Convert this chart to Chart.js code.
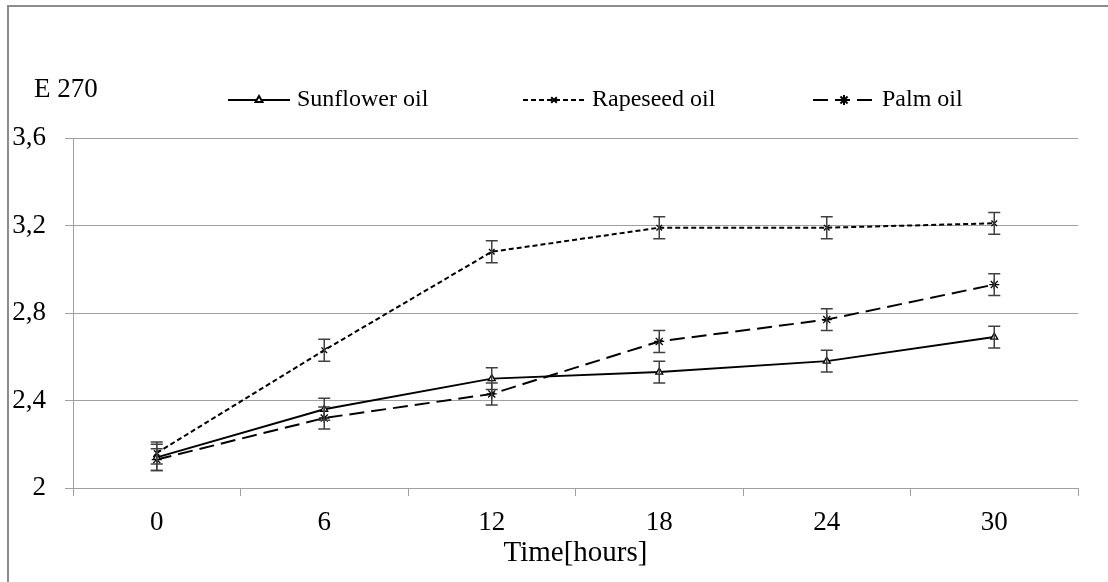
<!DOCTYPE html>
<html>
<head>
<meta charset="utf-8">
<script src="https://cdn.jsdelivr.net/npm/chart.js@4.4.1/dist/chart.umd.min.js"></script>
<style>
    body { margin: 0; background: #fff; }
    #wrap { position: relative; width: 1108px; height: 582px; overflow: hidden; }
    #frame { position: absolute; left: 7px; top: 5px; width: 1200px; height: 700px;
             border-left: 2px solid #8c8c8c; border-top: 2px solid #8c8c8c; }
    canvas { position: absolute; left: 0; top: 0; }
</style>
</head>
<body>
<div id="wrap">
    <canvas id="CHART" width="1108" height="582"></canvas>
    <div id="frame"></div>
</div>
<script>
"use strict"

const hours = ["0", "6", "12", "18", "24", "30"]
const sunflower = [2.14, 2.36, 2.50, 2.53, 2.58, 2.69]
const rapeseed = [2.16, 2.63, 3.08, 3.19, 3.19, 3.21]
const palm = [2.13, 2.32, 2.43, 2.67, 2.77, 2.93]
const sunflowerErr = [0.06, 0.05, 0.05, 0.05, 0.05, 0.05]
const rapeseedErr = [0.05, 0.05, 0.05, 0.05, 0.05, 0.05]
const palmErr = [0.05, 0.05, 0.05, 0.05, 0.05, 0.05]
const yTitle = "E 270"
const xTitle = "Time[hours]"

const FONT = "'Liberation Serif', 'Times New Roman', serif"

// error bars drawn from each dataset's "errors" array through the scales
const errorBars = {
    id: "errorBars",
    afterDatasetsDraw(chart) {
        const ctx = chart.ctx
        const ys = chart.scales.y
        ctx.save()
        ctx.strokeStyle = "#404040"
        ctx.lineWidth = 1.5
        chart.data.datasets.forEach((ds, i) => {
            const meta = chart.getDatasetMeta(i)
            meta.data.forEach((pt, j) => {
                const e = ds.errors[j]
                const y0 = ys.getPixelForValue(ds.data[j] + e)
                const y1 = ys.getPixelForValue(ds.data[j] - e)
                const x = pt.x
                ctx.beginPath()
                ctx.moveTo(x, y0); ctx.lineTo(x, y1)
                ctx.moveTo(x - 6, y0); ctx.lineTo(x + 6, y0)
                ctx.moveTo(x - 6, y1); ctx.lineTo(x + 6, y1)
                ctx.stroke()
            })
        })
        ctx.restore()
    }
}

// legend with line + marker samples, and the "E 270" label
const topLegend = {
    id: "topLegend",
    afterDraw(chart) {
        const ctx = chart.ctx
        ctx.save()
        ctx.fillStyle = "#000"
        ctx.textBaseline = "middle"
        ctx.font = "27px " + FONT
        ctx.fillText(yTitle, 34, 90)
        const spots = [228, 523, 813]
        const y = 100
        ctx.font = "24px " + FONT
        chart.data.datasets.forEach((ds, i) => {
            const x0 = spots[i], x1 = x0 + 62
            ctx.strokeStyle = ds.borderColor
            ctx.lineWidth = ds.borderWidth
            ctx.setLineDash(ds.borderDash || [])
            ctx.beginPath()
            ctx.moveTo(x0, y); ctx.lineTo(x1, y)
            ctx.stroke()
            ctx.setLineDash([])
            ctx.fillStyle = ds.pointBackgroundColor
            ctx.strokeStyle = ds.pointBorderColor
            Chart.helpers.drawPoint(ctx, {
                pointStyle: ds.pointStyle, radius: ds.pointRadius,
                rotation: 0, borderWidth: ds.pointBorderWidth,
            }, (x0 + x1) / 2, y)
            ctx.fillStyle = "#000"
            ctx.fillText(ds.label, x1 + 7, y)
        })
        ctx.restore()
    }
}

function line(label, data, errors, dash, style, r) {
    return {
        label: label,
        data: data,
        errors: errors,
        borderColor: "#000",
        borderWidth: 2,
        borderDash: dash,
        pointStyle: style,
        pointRadius: r,
        pointHoverRadius: r,
        pointBorderColor: "#000",
        pointBackgroundColor: "#fff",
        pointBorderWidth: 1.3,
        tension: 0,
        fill: false,
    }
}

new Chart(CHART, {
    type: "line",
    data: {
        labels: hours,
        datasets: [
            line("Sunflower oil", sunflower, sunflowerErr, [], "triangle", 4),
            line("Rapeseed oil", rapeseed, rapeseedErr, [5, 3], "crossRot", 4),
            line("Palm oil", palm, palmErr, [15, 7], "star", 5),
        ],
    },
    plugins: [errorBars, topLegend],
    options: {
        animation: false,
        responsive: false,
        maintainAspectRatio: false,
        layout: { padding: { top: 138, right: 30, left: 0, bottom: 0 } },
        plugins: { legend: { display: false }, tooltip: { enabled: false } },
        scales: {
            x: {
                type: "category",
                offset: true,
                afterFit: s => { s.height = 94 },
                grid: { offset: true, drawOnChartArea: false, drawTicks: true, tickLength: 8, color: "#a0a0a0" },
                border: { color: "#a0a0a0", width: 1 },
                ticks: { color: "#000", padding: 11, font: { family: FONT, size: 27 }, maxRotation: 0 },
                title: { display: true, text: xTitle, color: "#000", font: { family: FONT, size: 29 }, padding: { top: 0, bottom: 11 } },
            },
            y: {
                min: 2,
                max: 3.6,
                afterFit: s => { s.width = 73 },
                grid: { color: "#a0a0a0", tickLength: 8 },
                border: { color: "#a0a0a0", width: 1 },
                ticks: {
                    stepSize: 0.4,
                    color: "#000",
                    padding: 19,
                    font: { family: FONT, size: 27 },
                    callback: v => String(Math.round(v * 10) / 10).replace(".", ","),
                },
            },
        },
    },
})
</script>
</body>
</html>
